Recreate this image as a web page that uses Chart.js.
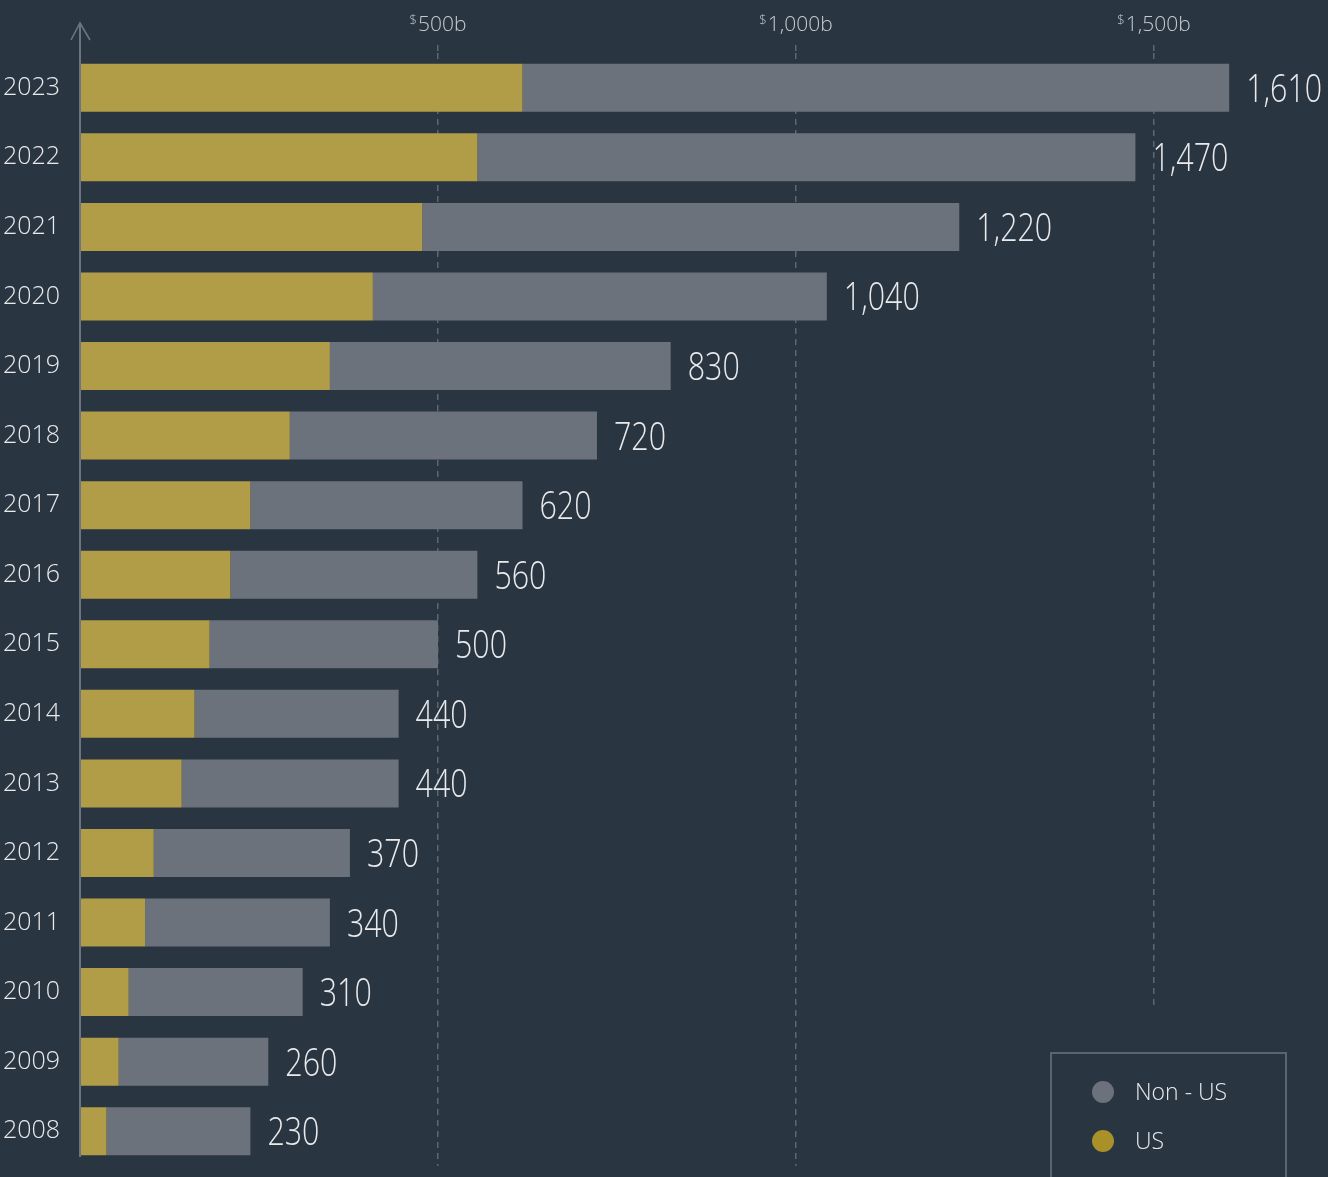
<!DOCTYPE html>
<html>
<head>
<meta charset="utf-8">
<script src="https://cdn.jsdelivr.net/npm/chart.js@4.4.1/dist/chart.umd.min.js"></script>
<style>
  html, body { margin: 0; padding: 0; background: #2a3542; }
  canvas { display: block; }
</style>
</head>
<body>
<canvas id="chart" width="1328" height="1177"></canvas>
<script>
// data
const years = ['2023', '2022', '2021', '2020', '2019', '2018', '2017', '2016',
               '2015', '2014', '2013', '2012', '2011', '2010', '2009', '2008'];
const usValues = [618, 555, 478, 409, 349, 293, 238, 210, 181, 160, 142, 103, 91, 68, 54, 37];
const nonUsValues = [987, 919, 750, 634, 476, 429, 380, 345, 319, 285, 303, 274, 258, 243, 209, 201];
const totalLabels = [1610, 1470, 1220, 1040, 830, 720, 620, 560, 500, 440, 440, 370, 340, 310, 260, 230];
const xTicks = [500, 1000, 1500];

const bgColor = '#2a3542';
const usColor = '#b19c48';
const nonUsColor = '#6b727c';
const textColor = '#e8eaec';
const fontFamily = "'Open Sans', 'Noto Sans', sans-serif";

// axis line with arrow, top tick labels, total labels, legend box
const decorations = {
    id: 'decorations',
    afterDraw(chart) {
        const ctx = chart.ctx;
        const area = chart.chartArea;
        const xScale = chart.scales.x;

        // y axis line + arrow
        ctx.save();
        ctx.strokeStyle = '#6b7480';
        ctx.lineWidth = 2;
        ctx.beginPath();
        ctx.moveTo(area.left, 1157);
        ctx.lineTo(area.left, 23);
        ctx.stroke();
        ctx.lineWidth = 1.6;
        ctx.beginPath();
        ctx.moveTo(area.left - 9, 40);
        ctx.lineTo(area.left, 23);
        ctx.lineTo(area.left + 10, 40);
        ctx.stroke();
        ctx.restore();

        // top tick labels: small "$" then "500b"
        ctx.save();
        ctx.fillStyle = '#c5cad0';
        ctx.textBaseline = 'alphabetic';
        ctx.textAlign = 'left';
        xTicks.forEach(v => {
            const px = xScale.getPixelForValue(v);
            const main = v.toLocaleString('en-US') + 'b';
            ctx.font = '300 13px ' + fontFamily;
            const wS = ctx.measureText('$').width;
            ctx.font = '300 21px ' + fontFamily;
            const wM = ctx.measureText(main).width;
            const x0 = px - (wS + wM + 1) / 2;
            ctx.font = '300 13px ' + fontFamily;
            ctx.fillText('$', x0, 24);
            ctx.font = '300 21px ' + fontFamily;
            ctx.fillText(main, x0 + wS + 1, 31);
        });
        ctx.restore();

        // total labels at end of each bar
        const meta = chart.getDatasetMeta(1);
        ctx.save();
        ctx.fillStyle = textColor;
        ctx.font = '300 38px ' + fontFamily;
        ctx.textAlign = 'left';
        ctx.textBaseline = 'alphabetic';
        meta.data.forEach((bar, i) => {
            ctx.save();
            ctx.translate(bar.x + 17, bar.y + 14);
            ctx.scale(0.8, 1);
            ctx.fillText(totalLabels[i].toLocaleString('en-US'), 0, 0);
            ctx.restore();
        });
        ctx.restore();

        // legend box
        ctx.save();
        ctx.fillStyle = bgColor;
        ctx.fillRect(1040, 1008, 270, 180);
        ctx.strokeStyle = '#5b6570';
        ctx.lineWidth = 2;
        ctx.strokeRect(1051, 1053, 235, 140);
        const items = [
            { label: chart.data.datasets[1].label, color: nonUsColor, y: 1092 },
            { label: chart.data.datasets[0].label, color: '#a99028', y: 1141 }
        ];
        ctx.font = '300 23px ' + fontFamily;
        ctx.textBaseline = 'middle';
        items.forEach(it => {
            ctx.fillStyle = it.color;
            ctx.beginPath();
            ctx.arc(1103, it.y, 11, 0, Math.PI * 2);
            ctx.fill();
            ctx.fillStyle = textColor;
            ctx.fillText(it.label, 1135, it.y + 1);
        });
        ctx.restore();
    }
};

const ctx = document.getElementById('chart').getContext('2d');
const chart = new Chart(ctx, {
    type: 'bar',
    data: {
        labels: years,
        datasets: [{
            label: 'US',
            data: usValues,
            backgroundColor: usColor,
            borderWidth: 0,
            categoryPercentage: 1,
            barPercentage: 0.69
        }, {
            label: 'Non - US',
            data: nonUsValues,
            backgroundColor: nonUsColor,
            borderWidth: 0,
            categoryPercentage: 1,
            barPercentage: 0.69
        }]
    },
    options: {
        indexAxis: 'y',
        responsive: false,
        animation: false,
        layout: { padding: { top: 0, bottom: 11, left: 0, right: 0 } },
        plugins: {
            legend: { display: false },
            tooltip: { enabled: false }
        },
        scales: {
            x: {
                position: 'top',
                stacked: true,
                min: 0,
                max: 1743,
                z: 1,
                afterBuildTicks(scale) {
                    scale.ticks = xTicks.map(v => ({ value: v }));
                },
                afterFit(scale) {
                    scale.height = 53;
                },
                ticks: { display: false },
                grid: {
                    color: 'rgba(190, 198, 206, 0.35)',
                    lineWidth: 1.5,
                    drawTicks: true,
                    tickLength: 8,
                    tickBorderDash: [6, 5]
                },
                border: { display: false, dash: [6, 5] }
            },
            y: {
                stacked: true,
                afterFit(scale) {
                    scale.width = 80;
                    scale.paddingTop = 0;
                    scale.paddingBottom = 0;
                },
                grid: { display: false, drawTicks: false },
                border: { display: false },
                ticks: {
                    color: textColor,
                    padding: 20,
                    font: { family: fontFamily, size: 25, weight: '300' }
                }
            }
        }
    },
    plugins: [decorations]
});
</script>
</body>
</html>
